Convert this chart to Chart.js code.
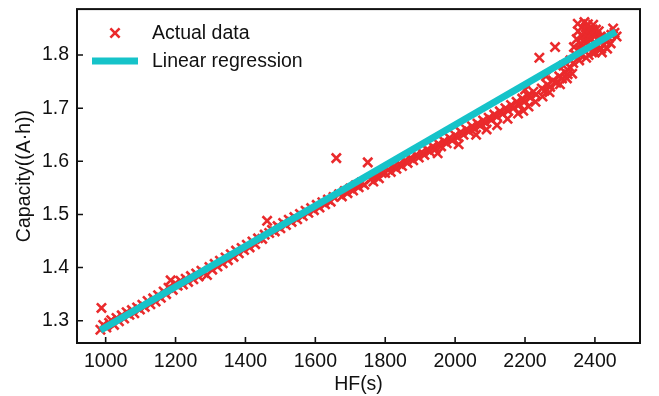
<!DOCTYPE html>
<html><head><meta charset="utf-8">
<script src="https://cdn.jsdelivr.net/npm/chart.js@4/dist/chart.umd.min.js"></script>
<style>html,body{margin:0;padding:0;background:#fff;}canvas{display:block;}</style>
</head><body>
<canvas id="c" width="659" height="396"></canvas>
<script>
const hfValues = [
 985,988,993,1002,1010,1016,1024,1031,1038,1046,1053,1060,1068,1075,1082,1090,1098,1105,1112,1120,1128,1136,1143,1150,1158,1166,1173,1180,1186,1192,1199,1206,1214,1221,1229,
 1236,1244,1251,1259,1266,1274,1282,1290,1297,1305,1312,1320,1327,1335,1343,1350,1358,1366,1373,1381,1389,1396,1404,1412,1420,1428,1436,1448,1455,1462,1468,1476,1484,1492,1500,
 1508,1516,1524,1532,1540,1548,1556,1564,1572,1580,1588,1596,1604,1612,1620,1628,1636,1644,1652,1660,1668,1676,1684,1692,1700,1708,1716,1724,1732,1740,1750,1758,1766,1774,1782,1790,1800,
 1808,1816,1824,1832,1840,1848,1856,1864,1872,1880,1888,1896,1904,1912,1920,1928,1936,1944,1952,1960,1968,1976,1984,1992,2000,2008,2016,2024,2032,2040,2048,2056,2064,2072,2080,2088,2096,
 2104,2112,2120,2128,2136,2144,2152,2160,2168,2176,2184,2192,2200,2208,2216,2224,2232,2241,2248,2256,2264,2272,2280,2286,2290,2298,2306,2314,2322,2330,2338,
 2345,2351,2355,2360,2364,2368,2372,2376,2378,2382,2385,2388,2390,2394,2397,2400,2404,2408,2412,2418,2425,2432,2440,2447,2452,2456,
 1950,2010,2060,2090,2120,2150,2180,2195,2210,2230,2250,2270,2300,2320,2335,2200,2260,2310,2330,
 2340,2348,2352,2356,2362,2366,2370,2374,2380,2383,2387,2391,2395,2399,2403,2407,2411,2416,2360,2375,2392,2420,2435,2445,2462
];
const capacityValues = [
 1.283,1.324,1.292,1.287,1.296,1.301,1.292,1.305,1.299,1.310,1.304,1.316,1.311,1.320,1.314,1.325,1.321,1.330,1.326,1.337,1.331,1.342,1.336,1.348,1.343,1.355,1.350,1.362,1.376,1.358,1.370,1.366,1.375,1.368,1.379,
 1.373,1.384,1.378,1.389,1.383,1.394,1.390,1.386,1.401,1.396,1.407,1.402,1.413,1.408,1.419,1.414,1.425,1.420,1.432,1.427,1.437,1.433,1.443,1.438,1.449,1.444,1.455,1.454,1.462,1.488,1.465,1.471,1.468,1.478,1.474,
 1.484,1.480,1.490,1.486,1.495,1.491,1.501,1.497,1.507,1.503,1.512,1.508,1.518,1.513,1.523,1.519,1.528,1.524,1.533,1.606,1.538,1.534,1.544,1.540,1.549,1.545,1.555,1.551,1.560,1.556,1.598,1.566,1.562,1.572,1.568,1.578,1.578,
 1.584,1.580,1.590,1.586,1.595,1.591,1.601,1.597,1.606,1.602,1.612,1.607,1.617,1.612,1.622,1.618,1.628,1.623,1.633,1.628,1.638,1.634,1.644,1.639,1.649,1.645,1.655,1.650,1.660,1.656,1.666,1.661,1.671,1.667,1.677,1.672,1.682,
 1.678,1.688,1.684,1.694,1.689,1.700,1.695,1.706,1.701,1.712,1.707,1.718,1.713,1.724,1.720,1.731,1.726,1.795,1.737,1.733,1.744,1.740,1.752,1.815,1.748,1.760,1.756,1.768,1.764,1.776,1.785,
 1.800,1.859,1.790,1.820,1.835,1.810,1.845,1.853,1.825,1.800,1.840,1.815,1.830,1.848,1.822,1.805,1.838,1.818,1.828,1.812,1.820,1.825,1.832,1.838,1.850,1.842,
 1.615,1.632,1.650,1.660,1.668,1.680,1.690,1.695,1.703,1.712,1.722,1.730,1.745,1.756,1.765,1.735,1.760,1.780,1.790,
 1.815,1.830,1.845,1.812,1.852,1.826,1.862,1.838,1.858,1.832,1.850,1.842,1.857,1.836,1.848,1.830,1.845,1.835,1.800,1.795,1.805,1.805,1.812,1.822,1.835
];
const fitHF = [985, 2460];
const fitCapacity = [1.282, 1.844];
const xTickValues = [1000,1200,1400,1600,1800,2000,2200,2400];
const yTickValues = [1.3,1.4,1.5,1.6,1.7,1.8];
const seriesLabels = ['Actual data','Linear regression'];
const axisTitles = {x:'HF(s)', y:'Capacity((A·h))'};

const RED = '#EA2A2C', CYAN = '#16C3C9', INK = '#111111';
const FONT = '"Liberation Sans", Arial, sans-serif';
const FS = 19.5;

const scatterPts = hfValues.map((v,i)=>({x:v,y:capacityValues[i]}));
const fitPts = fitHF.map((v,i)=>({x:v,y:fitCapacity[i]}));

function drawCross(ctx,x,y,r){
  const d = r*Math.SQRT1_2;
  ctx.beginPath();
  ctx.moveTo(x-d,y-d);ctx.lineTo(x+d,y+d);
  ctx.moveTo(x-d,y+d);ctx.lineTo(x+d,y-d);
  ctx.stroke();
}

const framePlugin = {
  id:'frame',
  afterDatasetsDraw(chart){
    const {ctx, chartArea:a, scales} = chart;
    ctx.save();
    ctx.strokeStyle = INK; ctx.lineWidth = 1.6;
    ctx.beginPath();
    xTickValues.forEach(v=>{const px=scales.x.getPixelForValue(v);ctx.moveTo(px,a.bottom);ctx.lineTo(px,a.bottom-6);});
    yTickValues.forEach(v=>{const py=scales.y.getPixelForValue(v);ctx.moveTo(a.left,py);ctx.lineTo(a.left+6,py);});
    ctx.stroke();
    ctx.lineWidth = 2;
    ctx.strokeRect(a.left,a.top,a.right-a.left,a.bottom-a.top);
    const ds = chart.data.datasets;
    ctx.font = FS+'px '+FONT; ctx.fillStyle = INK; ctx.textBaseline='middle'; ctx.textAlign='left';
    const scat = ds.find(d=>d.type==='scatter'), line = ds.find(d=>d.type==='line');
    ctx.strokeStyle = scat.borderColor; ctx.lineWidth = scat.borderWidth;
    drawCross(ctx,115,33,scat.pointRadius);
    ctx.fillText(scat.label,152,34);
    ctx.strokeStyle = line.borderColor; ctx.lineWidth = line.borderWidth;
    ctx.beginPath();ctx.moveTo(92,61);ctx.lineTo(138,61);ctx.stroke();
    ctx.fillText(line.label,152,62);
    ctx.restore();
  }
};

new Chart(document.getElementById('c'),{
  data:{datasets:[
    {type:'scatter',label:seriesLabels[0],data:scatterPts,order:1,pointStyle:'crossRot',pointRadius:6.5,pointHoverRadius:6.5,borderColor:RED,backgroundColor:RED,borderWidth:2.6},
    {type:'line',label:seriesLabels[1],data:fitPts,order:0,borderColor:CYAN,backgroundColor:CYAN,borderWidth:7,pointRadius:0,tension:0,fill:false,borderCapStyle:'butt'}
  ]},
  options:{
    responsive:false, animation:false, events:[],
    layout:{padding:{top:7,right:19,left:0,bottom:0}},
    plugins:{legend:{display:false},tooltip:{enabled:false}},
    scales:{
      x:{type:'linear',min:918,max:2529,
        afterBuildTicks(s){s.ticks=xTickValues.map(v=>({value:v}));},
        afterFit(s){s.height=53;s.paddingLeft=0;s.paddingRight=0;},
        grid:{display:false,drawTicks:false},border:{display:false},
        ticks:{autoSkip:false,maxRotation:0,padding:7,color:INK,font:{family:FONT,size:FS},callback:v=>String(v)},
        title:{display:true,text:axisTitles.x,color:INK,font:{family:FONT,size:FS},padding:{top:0,bottom:0}}
      },
      y:{type:'linear',min:1.258,max:1.8865,
        afterBuildTicks(s){s.ticks=yTickValues.map(v=>({value:v}));},
        afterFit(s){s.width=77;s.paddingTop=0;s.paddingBottom=0;},
        grid:{display:false,drawTicks:false},border:{display:false},
        ticks:{autoSkip:false,padding:8,color:INK,font:{family:FONT,size:FS},callback:v=>Number(v).toFixed(1)},
        title:{display:true,text:axisTitles.y,color:INK,font:{family:FONT,size:FS},padding:{top:13,bottom:0}}
      }
    }
  },
  plugins:[framePlugin]
});
</script>
</body></html>
